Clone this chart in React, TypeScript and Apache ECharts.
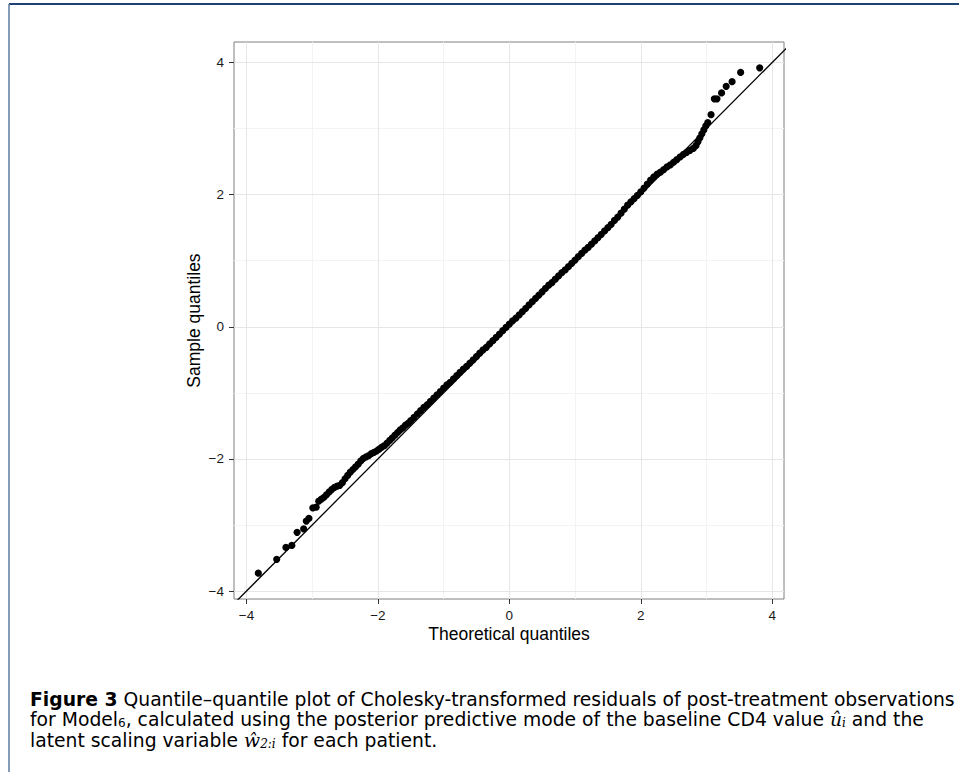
import React, { useEffect, useRef } from "react";
import * as echarts from "echarts";

// Theoretical (x) and sample (y) quantiles
const theoreticalQ: number[] = [
  -3.82, -3.54, -3.40, -3.31, -3.23, -3.13, -3.09, -3.05, -2.99, -2.94,
  -2.90, -2.86, -2.82, -2.78, -2.74, -2.70, -2.66, -2.62, -2.58, -2.54,
  -2.50, -2.46, -2.42, -2.38, -2.34, -2.30, -2.26, -2.22, -2.18, -2.14,
  -2.10, -2.06, -2.02, -1.98, -1.94, -1.90, -1.86, -1.82, -1.78, -1.74,
  -1.70, -1.66, -1.62, -1.58, -1.54, -1.50, -1.45, -1.40, -1.35, -1.30,
  -1.25, -1.20, -1.15, -1.10, -1.05, -1.00, -0.95, -0.90, -0.85, -0.80,
  -0.75, -0.70, -0.65, -0.60, -0.55, -0.50, -0.45, -0.40, -0.35, -0.30,
  -0.25, -0.20, -0.15, -0.10, -0.05, 0.00, 0.05, 0.10, 0.15, 0.20,
  0.25, 0.30, 0.35, 0.40, 0.45, 0.50, 0.55, 0.60, 0.65, 0.70,
  0.75, 0.80, 0.85, 0.90, 0.95, 1.00, 1.05, 1.10, 1.15, 1.20,
  1.25, 1.30, 1.35, 1.40, 1.45, 1.50, 1.55, 1.60, 1.65, 1.70,
  1.75, 1.80, 1.85, 1.90, 1.95, 2.00, 2.05, 2.10, 2.15, 2.20,
  2.25, 2.30, 2.35, 2.40, 2.45, 2.50, 2.55, 2.60, 2.65, 2.70,
  2.75, 2.80, 2.84, 2.87, 2.90, 2.93, 2.96, 2.99,
  3.02, 3.07, 3.12, 3.16, 3.23, 3.30, 3.39, 3.52, 3.81,
];
const sampleQ: number[] = [
  -3.73, -3.52, -3.34, -3.31, -3.11, -3.06, -2.94, -2.90, -2.74, -2.73,
  -2.64, -2.61, -2.58, -2.54, -2.50, -2.46, -2.43, -2.41, -2.40, -2.36,
  -2.30, -2.25, -2.20, -2.16, -2.12, -2.08, -2.03, -1.99, -1.97, -1.95,
  -1.92, -1.90, -1.88, -1.85, -1.82, -1.80, -1.76, -1.72, -1.68, -1.64,
  -1.60, -1.56, -1.53, -1.49, -1.46, -1.42, -1.37, -1.32, -1.27, -1.22,
  -1.18, -1.13, -1.08, -1.03, -0.98, -0.93, -0.88, -0.84, -0.79, -0.74,
  -0.69, -0.64, -0.60, -0.55, -0.50, -0.45, -0.40, -0.35, -0.31, -0.26,
  -0.21, -0.16, -0.11, -0.06, -0.01, 0.04, 0.09, 0.13, 0.18, 0.23,
  0.28, 0.33, 0.38, 0.43, 0.48, 0.53, 0.58, 0.63, 0.67, 0.72,
  0.77, 0.82, 0.86, 0.91, 0.96, 1.01, 1.06, 1.11, 1.16, 1.20,
  1.25, 1.30, 1.35, 1.40, 1.45, 1.50, 1.55, 1.61, 1.66, 1.72,
  1.78, 1.84, 1.89, 1.94, 1.99, 2.04, 2.10, 2.16, 2.22, 2.27,
  2.31, 2.34, 2.38, 2.42, 2.45, 2.49, 2.53, 2.57, 2.61, 2.64,
  2.67, 2.70, 2.74, 2.80, 2.86, 2.92, 2.98, 3.04,
  3.09, 3.21, 3.45, 3.45, 3.54, 3.64, 3.71, 3.85, 3.92,
];

// Reference line y = x (end points beyond the panel, clipped)
const refLineX: number[] = [-4.6, 4.6];
const refLineY: number[] = [-4.6, 4.6];

const majorTicks: number[] = [-4, -2, 0, 2, 4];
const minorTicks: number[] = [-3, -1, 1, 3];

const xAxisTitle = "Theoretical quantiles";
const yAxisTitle = "Sample quantiles";

const captionLine1 = "{b|Figure 3} Quantile–quantile plot of Cholesky-transformed residuals of post-treatment observations";
const captionLine2 = "for Model{s|6}, calculated using the posterior predictive mode of the baseline CD4 value {m|û}{ms|i} and the";
const captionLine3 = "latent scaling variable {m|ŵ}{ms|2:i} for each patient.";

const fmt = (v: number) => (v < 0 ? "\u2212" + Math.abs(v) : String(v));

export default function App() {
  const ref = useRef<HTMLDivElement>(null);
  useEffect(() => {
    if (!ref.current) return;
    const chart = echarts.init(ref.current, undefined, { renderer: "svg" });
    const points = theoreticalQ.map((x, i) => [x, sampleQ[i]]);
    const refLine = refLineX.map((x, i) => [x, refLineY[i]]);
    const gridLines = [
      ...minorTicks.map((v) => ({ xAxis: v, lineStyle: { color: "#f3f3f3", width: 1, type: "solid" } })),
      ...minorTicks.map((v) => ({ yAxis: v, lineStyle: { color: "#f3f3f3", width: 1, type: "solid" } })),
      ...majorTicks.map((v) => ({ xAxis: v, lineStyle: { color: "#e6e6e6", width: 1, type: "solid" } })),
      ...majorTicks.map((v) => ({ yAxis: v, lineStyle: { color: "#e6e6e6", width: 1, type: "solid" } })),
    ];
    const capFont = "DejaVu Sans";
    const capSize = 18.75;
    const rich = {
      b: { fontWeight: "bold", fontFamily: capFont, fontSize: capSize, fill: "#000", lineHeight: 20, verticalAlign: "middle" },
      s: { fontFamily: capFont, fontSize: 12, fill: "#000", lineHeight: 8, verticalAlign: "bottom" },
      m: { fontFamily: "DejaVu Serif", fontStyle: "italic", fontSize: capSize, fill: "#000", lineHeight: 20, verticalAlign: "middle" },
      ms: { fontFamily: "DejaVu Serif", fontStyle: "italic", fontSize: 12, fill: "#000", lineHeight: 8, verticalAlign: "bottom" },
    };
    const capText = (y: number, text: string) => ({
      type: "text",
      x: 30,
      y,
      silent: true,
      style: {
        text,
        rich,
        fontFamily: capFont,
        fontSize: capSize,
        lineHeight: 20,
        fill: "#000",
        align: "left",
        verticalAlign: "middle",
      },
    });
    const labelStyle = {
      customValues: majorTicks,
      formatter: fmt,
      color: "#1a1a1a",
      fontSize: 13.5,
      fontFamily: "Liberation Sans",
    };
    const tickStyle = { show: true, customValues: majorTicks, length: 5, lineStyle: { color: "#333", width: 1 } };
    chart.setOption({
      animation: false,
      backgroundColor: "#ffffff",
      grid: {
        left: 234,
        top: 42,
        right: 175,
        bottom: 173,
        containLabel: false,
        show: true,
        borderColor: "#7f7f7f",
        borderWidth: 1,
        backgroundColor: "transparent",
      },
      xAxis: {
        type: "value",
        position: "bottom",
        min: -4.19,
        max: 4.18,
        splitLine: { show: false },
        axisLine: { show: false, onZero: false },
        axisTick: tickStyle,
        axisLabel: { ...labelStyle, margin: 9 },
        name: xAxisTitle,
        nameLocation: "middle",
        nameGap: 26,
        nameMoveOverlap: false,
        nameTextStyle: { fontSize: 17.5, color: "#000", fontFamily: "Liberation Sans" },
      },
      yAxis: {
        type: "value",
        position: "left",
        min: -4.12,
        max: 4.31,
        splitLine: { show: false },
        axisLine: { show: false, onZero: false },
        axisTick: tickStyle,
        axisLabel: { ...labelStyle, margin: 10 },
        name: yAxisTitle,
        nameLocation: "middle",
        nameGap: 31,
        nameMoveOverlap: false,
        nameRotate: 90,
        nameTextStyle: { fontSize: 17.5, color: "#000", fontFamily: "Liberation Sans" },
      },
      series: [
        {
          type: "line",
          data: [[0, 0]],
          showSymbol: false,
          symbol: "none",
          lineStyle: { opacity: 0 },
          silent: true,
          z: 1,
          markLine: {
            silent: true,
            z: 0,
            symbol: ["none", "none"],
            label: { show: false },
            animation: false,
            data: gridLines,
          },
        },
        {
          type: "line",
          data: refLine,
          showSymbol: false,
          symbol: "none",
          clip: true,
          lineStyle: { color: "#000", width: 1.3 },
          silent: true,
          z: 4,
        },
        {
          type: "scatter",
          data: points,
          symbol: "circle",
          symbolSize: 7.2,
          itemStyle: { color: "#000", opacity: 1 },
          silent: true,
          z: 10,
        },
      ],
      graphic: [
        { type: "line", silent: true, shape: { x1: 9, y1: 4, x2: 959, y2: 4 }, style: { stroke: "#1e4274", lineWidth: 2 } },
        { type: "line", silent: true, shape: { x1: 9, y1: 4, x2: 9, y2: 772 }, style: { stroke: "#5d7aa3", lineWidth: 1.5 } },
        capText(699, captionLine1),
        capText(719, captionLine2),
        capText(740, captionLine3),
      ],
    });
    return () => chart.dispose();
  }, []);
  return (
    <div
      ref={ref}
      style={{ position: "fixed", left: 0, top: 0, width: 959, height: 772, background: "#fff" }}
    />
  );
}
